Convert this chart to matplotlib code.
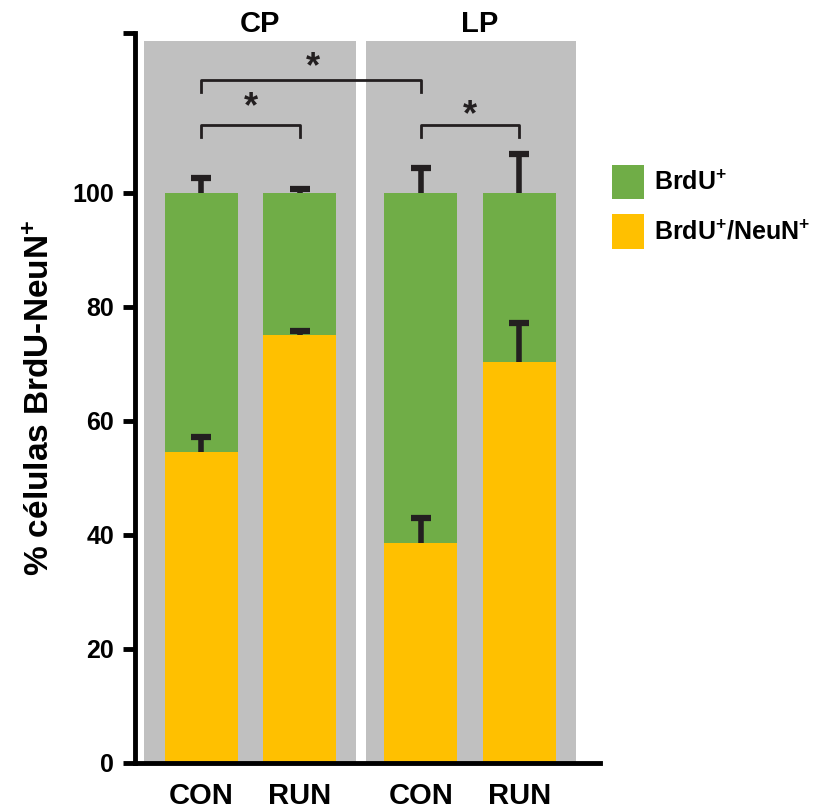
import matplotlib.pyplot as plt

plt.rcParams['font.family'] = ['Liberation Sans', 'DejaVu Sans']
plt.rcParams['font.weight'] = 'bold'
plt.rcParams['mathtext.fontset'] = 'custom'
plt.rcParams['mathtext.rm'] = 'Liberation Sans:bold'
plt.rcParams['mathtext.bf'] = 'Liberation Sans:bold'
plt.rcParams['mathtext.default'] = 'bf'

# data
groups = ['CP', 'LP']
conditions = ['CON', 'RUN', 'CON', 'RUN']
neun = [54.5, 75.1, 38.5, 70.3]        # BrdU+/NeuN+ (%)
neun_err = [2.7, 0.7, 4.4, 6.8]
total = [100, 100, 100, 100]           # BrdU+ (%)
total_err = [2.6, 0.6, 4.4, 6.8]

green = '#70ad47'
yellow = '#ffc000'
grey = '#c0c0c0'
dark = '#231f20'

x = [0, 1, 2.23, 3.23]
width = 0.74

fig = plt.figure(figsize=(8.38, 8.11), dpi=100)
ax = fig.add_axes([0.161, 0.0592, 0.555, 0.9])

# grey panels behind each group
ax.axvspan(-0.584, 1.566, ymax=126.7 / 128, color=grey, zorder=0, lw=0)
ax.axvspan(1.67, 3.81, ymax=126.7 / 128, color=grey, zorder=0, lw=0)

green_top = [t - n for t, n in zip(total, neun)]
ax.bar(x, neun, width, color=yellow, zorder=2, label='BrdU$^{+}$/NeuN$^{+}$')
ax.bar(x, green_top, width, bottom=neun, color=green, zorder=2, label='BrdU$^{+}$')

# upper-only error bars
for vals, errs in [(neun, neun_err), (total, total_err)]:
    tops = [v + e for v, e in zip(vals, errs)]
    ax.vlines(x, vals, tops, color=dark, lw=4, zorder=3)
    ax.plot(x, tops, ls='none', marker='_', ms=15, mew=4.5, color=dark, zorder=3)

# significance brackets
def bracket(x0, x1, y, sx, sy, h=2.1):
    ax.plot([x0, x0, x1, x1], [y - h, y, y, y - h], color=dark, lw=2, zorder=3)
    ax.text(sx, sy, '*', ha='center', va='center', fontsize=26, color=dark)

bracket(x[0], x[1], 111.9, (x[0] + x[1]) / 2, 115.0)
bracket(x[2], x[3], 111.9, (x[2] + x[3]) / 2, 113.6)
bracket(x[0], x[2], 119.8, 1.13, 122.0)

# group titles
for gx, g in zip([(x[0] + x[1]) / 2, (x[2] + x[3]) / 2], groups):
    ax.text(gx + 0.1, 128.2, g, ha='center', va='baseline', fontsize=21, clip_on=False)

ax.set_xlim(-0.675, 4.05)
ax.set_ylim(0, 128)
ax.set_yticks([0, 20, 40, 60, 80, 100, 128])
ax.set_yticklabels(['0', '20', '40', '60', '80', '100', ''])
ax.set_xticks(x)
ax.set_xticklabels(conditions)
ax.tick_params(axis='x', length=0, pad=14, labelsize=21)
ax.tick_params(axis='y', length=9, width=3.5, labelsize=18, pad=6)

for s in ['top', 'right']:
    ax.spines[s].set_visible(False)
ax.spines['left'].set_linewidth(3.5)
ax.spines['bottom'].set_linewidth(3.5)

ax.set_ylabel('% células BrdU-NeuN$^{+}$', fontsize=24, fontweight='bold', labelpad=12)

handles, labels = ax.get_legend_handles_labels()
ax.legend(handles[::-1], labels[::-1], loc='upper left', bbox_to_anchor=(0.73, 0.797),
          bbox_transform=fig.transFigure, frameon=False, fontsize=18,
          borderaxespad=0, borderpad=0,
          handlelength=1.3, handleheight=1.75, handletextpad=0.4, labelspacing=0.6)

fig.savefig('out.png', dpi=100)
